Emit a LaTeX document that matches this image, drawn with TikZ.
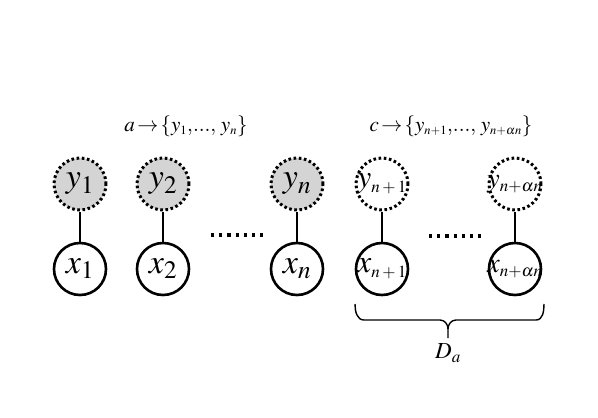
\documentclass[tikz,border=0pt]{standalone}
\usepackage{mathptmx}
\newcommand{\ovr}[1]{\makebox[0pt]{#1}}
\newcommand{\subsz}[1]{\mbox{\fontsize{17}{17}\selectfont$#1$}}
\newcommand{\lsub}[1]{\mbox{\fontsize{12.5}{13}\selectfont$#1$}}
\begin{document}
\begin{tikzpicture}[x=1pt,y=-1pt,
  lat/.style={circle,draw,line width=2.6pt,minimum size=52pt,inner sep=0pt,font=\fontsize{34}{36}\selectfont},
  obs/.style={circle,draw,line width=3pt,dash pattern=on 2.6pt off 2.6pt,minimum size=52pt,inner sep=0pt,font=\fontsize{34}{36}\selectfont},
  obsfill/.style={obs,fill=black!17},
  link/.style={line width=2.6pt},
  dotrow/.style={line width=3.2pt,dash pattern=on 3.2pt off 5pt},
  lbl/.style={font=\fontsize{21}{23}\selectfont,inner sep=0pt}]
\useasboundingbox (0,0) rectangle (598,418);
\node[obsfill] (y1) at (80,184) {$y_1$};
\node[obsfill] (y2) at (163,184) {$y_2$};
\node[obsfill] (yn) at (297,184) {$y_n$};
\node[obs] (yn1) at (382,184) {\ovr{\fontsize{32}{34}\selectfont$y_{\subsz{n+1}}$}};
\node[obs] (yna) at (515,184) {\ovr{\fontsize{28}{30}\selectfont$y_{\subsz{n{+}\alpha n}}$}};
\node[lat] (x1) at (80,269) {$x_1$};
\node[lat] (x2) at (163,269) {$x_2$};
\node[lat] (xn) at (297,269) {$x_n$};
\node[lat] (xn1) at (382,269) {\ovr{\fontsize{32}{34}\selectfont$x_{\subsz{n+1}}$}};
\node[lat] (xna) at (515,269) {\ovr{\fontsize{28}{30}\selectfont$x_{\subsz{n{+}\alpha n}}$}};
\foreach \a/\b in {y1/x1,y2/x2,yn/xn,yn1/xn1,yna/xna}
  \draw[link] (\a) -- (\b);
\coordinate (d1s) at (211,235);
\coordinate (d1e) at (266,235);
\coordinate (d2s) at (429,236);
\coordinate (d2e) at (486,236);
\draw[dotrow] (d1s) -- (d1e);
\draw[dotrow] (d2s) -- (d2e);
\node[lbl] (la) at (186,126) {$a\!\rightarrow\!\{y_{\lsub{1}},\!...,\,y_{\lsub{n}}\}$};
\node[lbl] (lc) at (451,126) {$c\!\rightarrow\!\{y_{\lsub{n{+}1}},\!...,\,y_{\lsub{n{+}\alpha n}}\}$};
\draw[line width=1.4pt,line join=round]
  (355,304) to[out=-90,in=180] (364,320) -- (440,320) to[out=0,in=90] (448,329)
  (536,320) -- (456,320) to[out=180,in=90] (448,329) -- (448,338)
  (536,320) to[out=0,in=-90] (544,304);
\node[font=\fontsize{23}{25}\selectfont,inner sep=0pt] (Da) at (448,353) {$D_a$};
\end{tikzpicture}
\end{document}
